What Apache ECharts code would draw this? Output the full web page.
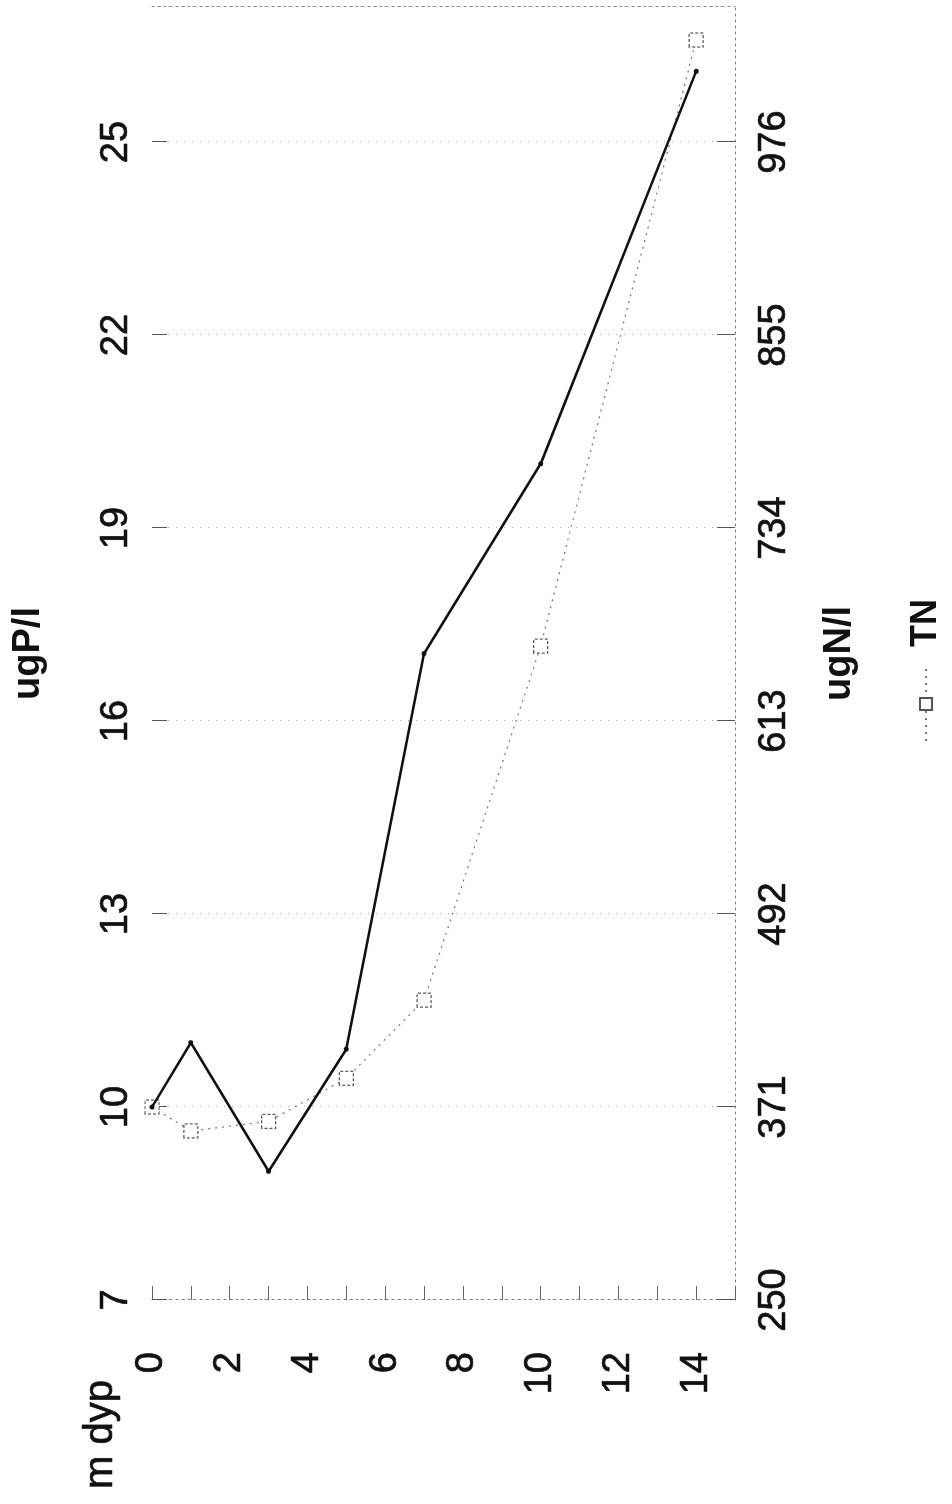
<!DOCTYPE html>
<html>
<head>
<meta charset="utf-8">
<script src="https://cdn.jsdelivr.net/npm/echarts@6/dist/echarts.min.js"></script>
<style>
html,body{margin:0;padding:0;background:#fff;overflow:hidden;width:952px;height:1504px;}
#chart{position:absolute;left:0;top:0;width:1504px;height:952px;transform-origin:0 0;transform:translate(0px,1504px) rotate(-90deg);background:#fff;}
</style>
</head>
<body>
<div id="chart"></div>
<script>
// depth in metres
const depth = [0, 1, 3, 5, 7, 10, 14];
// total phosphorus, ugP/l
const tpValues = [10.0, 11.0, 9.0, 10.9, 17.05, 20.0, 26.1];
// total nitrogen, ugN/l
const tnValues = [371, 356, 362, 389, 438, 660, 1040];
// axis tick labels
const ugPTicks = [7, 10, 13, 16, 19, 22, 25];
const ugNTicks = [250, 371, 492, 613, 734, 855, 976];
const depthTicks = [0, 2, 4, 6, 8, 10, 12, 14];

const ugPMax = 27.1;
const ugNMax = ugNTicks[0] + (ugPMax - ugPTicks[0]) * (ugNTicks[1] - ugNTicks[0]) / (ugPTicks[1] - ugPTicks[0]);

const font = "'Liberation Sans', Arial, sans-serif";
const labelStyle = {fontFamily: font, fontSize: 38, color: '#111', textBorderColor: '#111', textBorderWidth: 0.7};
const chart = echarts.init(document.getElementById('chart'), null, {renderer: 'canvas'});

chart.setOption({
  animation: false,
  backgroundColor: '#fff',
  title: {
    text: 'm dyp', left: 10, top: 76,
    textStyle: {fontFamily: font, fontSize: 40, fontWeight: 'normal', color: '#111', textBorderColor: '#111', textBorderWidth: 0.7}
  },
  legend: {
    data: ['TN'], left: 757, top: 903,
    itemWidth: 74, itemHeight: 15,
    textStyle: {fontFamily: font, fontSize: 36, fontWeight: 'bold', color: '#111', padding: [0, 0, 0, 15]}
  },
  grid: {left: 204, right: 7, top: 152, bottom: 217, containLabel: false},
  xAxis: [
    {
      type: 'value', position: 'top', min: ugPTicks[0], max: ugPMax, interval: ugPTicks[1] - ugPTicks[0],
      name: 'ugP/l', nameLocation: 'middle', nameGap: 104,
      nameTextStyle: {fontFamily: font, fontSize: 38, fontWeight: 'bold', color: '#111'},
      axisLine: {show: false, onZero: false},
      axisTick: {show: true, inside: true, length: 15, lineStyle: {color: '#555'}},
      axisLabel: Object.assign({margin: 16, showMaxLabel: false,
        formatter: v => ugPTicks.indexOf(v) >= 0 ? String(v) : ''}, labelStyle),
      splitLine: {show: true, lineStyle: {color: '#aaa', type: [1, 7], width: 1}}
    },
    {
      type: 'value', position: 'bottom', min: ugNTicks[0], max: ugNMax, interval: ugNTicks[1] - ugNTicks[0],
      name: 'ugN/l', nameLocation: 'middle', nameGap: 86,
      nameTextStyle: {fontFamily: font, fontSize: 38, fontWeight: 'bold', color: '#111'},
      axisLine: {show: true, onZero: false, lineStyle: {color: '#777', type: [2, 4], width: 1}},
      axisTick: {show: true, inside: true, length: 18, lineStyle: {color: '#555'}},
      axisLabel: Object.assign({margin: 21, showMaxLabel: false,
        formatter: v => ugNTicks.indexOf(Math.round(v)) >= 0 ? String(Math.round(v)) : ''}, labelStyle),
      splitLine: {show: false}
    }
  ],
  yAxis: [
    {
      type: 'value', position: 'left', inverse: true, min: 0, max: 15, interval: 1,
      axisLine: {show: true, onZero: false, lineStyle: {color: '#777', type: [2, 4], width: 1}},
      axisTick: {show: true, inside: true, length: 14, lineStyle: {color: '#666'}},
      axisLabel: Object.assign({margin: 52,
        formatter: v => depthTicks.indexOf(v) >= 0 ? String(v) : ''}, labelStyle),
      splitLine: {show: false}
    },
    {
      type: 'value', position: 'right', inverse: true, min: 0, max: 15, interval: 1,
      axisLine: {show: true, onZero: false, lineStyle: {color: '#888', type: [2, 4], width: 1}},
      axisTick: {show: false}, axisLabel: {show: false}, splitLine: {show: false}
    }
  ],
  series: [
    {
      name: 'TN', type: 'line', xAxisIndex: 1, yAxisIndex: 0, z: 2,
      data: depth.map((d, i) => [tnValues[i], d]),
      symbol: 'rect', symbolSize: 14,
      itemStyle: {color: '#fff', borderColor: '#555', borderWidth: 1.2, borderType: [3, 2]},
      lineStyle: {color: '#777', width: 1.2, type: [2, 5]}
    },
    {
      name: 'TP', type: 'line', xAxisIndex: 0, yAxisIndex: 0, z: 3,
      data: depth.map((d, i) => [tpValues[i], d]),
      symbol: 'circle', symbolSize: 5,
      itemStyle: {color: '#111'},
      lineStyle: {color: '#111', width: 2.6}
    }
  ]
});
</script>
</body>
</html>
